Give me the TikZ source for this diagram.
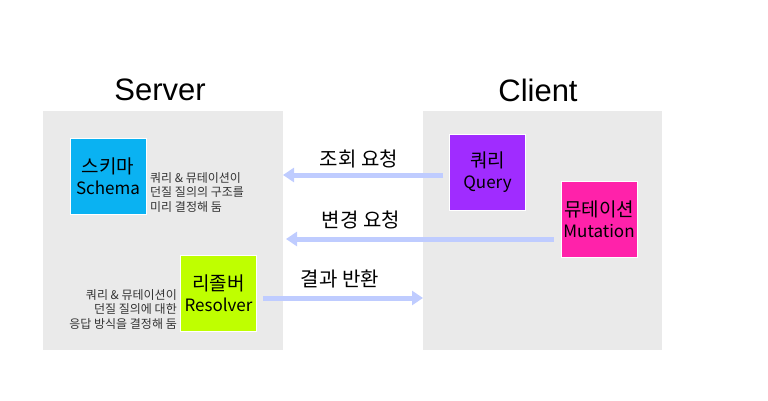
\documentclass[tikz,border=0pt]{standalone}
\usepackage{fontspec}
\setmainfont{Noto Sans CJK KR}
\newfontfamily\titlefont{Liberation Sans}
\usetikzlibrary{arrows.meta}
\definecolor{panelgray}{HTML}{EAEAEA}
\definecolor{arrowblue}{HTML}{BFCCFF}
\definecolor{schemacol}{HTML}{0AB2F2}
\definecolor{resolvercol}{HTML}{BFFF00}
\definecolor{querycol}{HTML}{A02CFF}
\definecolor{mutationcol}{HTML}{FF22AA}
\newcommand{\kor}[1]{{\fontsize{19}{22}\selectfont #1}}
\begin{document}
\begin{tikzpicture}[x=1pt,y=-1pt,
  panel/.style={fill=panelgray,draw=none,inner sep=0pt,anchor=north west},
  box/.style={draw=white,line width=0.6pt,minimum width=76pt,minimum height=76pt,inner sep=0pt,align=center,font=\fontsize{17}{21}\selectfont},
  desc/.style={font=\fontsize{12}{14.8}\selectfont,inner sep=0pt,text=black!80},
  title/.style={font=\titlefont\fontsize{31}{36}\selectfont},
  lbl/.style={font=\fontsize{20}{24}\selectfont,inner sep=0pt},
  flow/.style={arrowblue,line width=5pt,-{Triangle[width=14pt,length=11pt]}}
]
\useasboundingbox (0,0) rectangle (768,400);
\node[panel,minimum width=240pt,minimum height=239pt] (server) at (43,111) {};
\node[panel,minimum width=239pt,minimum height=239pt] (client) at (423,111) {};
\node[title] (servertitle) at (160,90) {Server};
\node[title] (clienttitle) at (538,90) {Client};

\node[box,fill=schemacol] (schema) at (108,176) {\kor{스키마}\\Schema};
\node[desc,align=left,anchor=north west] (schemadesc) at (150,172) {쿼리 \& 뮤테이션이\\던질 질의의 구조를\\미리 결정해 둠};

\node[box,fill=resolvercol] (resolver) at (218.5,293.5) {\kor{리졸버}\\Resolver};
\node[desc,align=right,anchor=north east] (resolverdesc) at (177,289) {쿼리 \& 뮤테이션이\\던질 질의에 대한\\응답 방식을 결정해 둠};

\node[box,fill=querycol] (query) at (487.5,172) {\kor{쿼리}\\Query};
\node[box,fill=mutationcol] (mutation) at (599,219.5) {\kor{뮤테이션}\\Mutation};

\coordinate (t1) at (283,175);
\coordinate (t2) at (286,239);
\coordinate (t3) at (423,298);
\draw[flow] ([xshift=-6pt]query.west |- t1) -- (t1);
\draw[flow] ([xshift=-7pt]mutation.west |- t2) -- (t2);
\draw[flow] ([xshift=6pt]resolver.east |- t3) -- (t3);

\node[lbl] (l1) at (359,159) {조회 요청};
\node[lbl] (l2) at (361,220) {변경 요청};
\node[lbl] (l3) at (340,279) {결과 반환};
\end{tikzpicture}
\end{document}
